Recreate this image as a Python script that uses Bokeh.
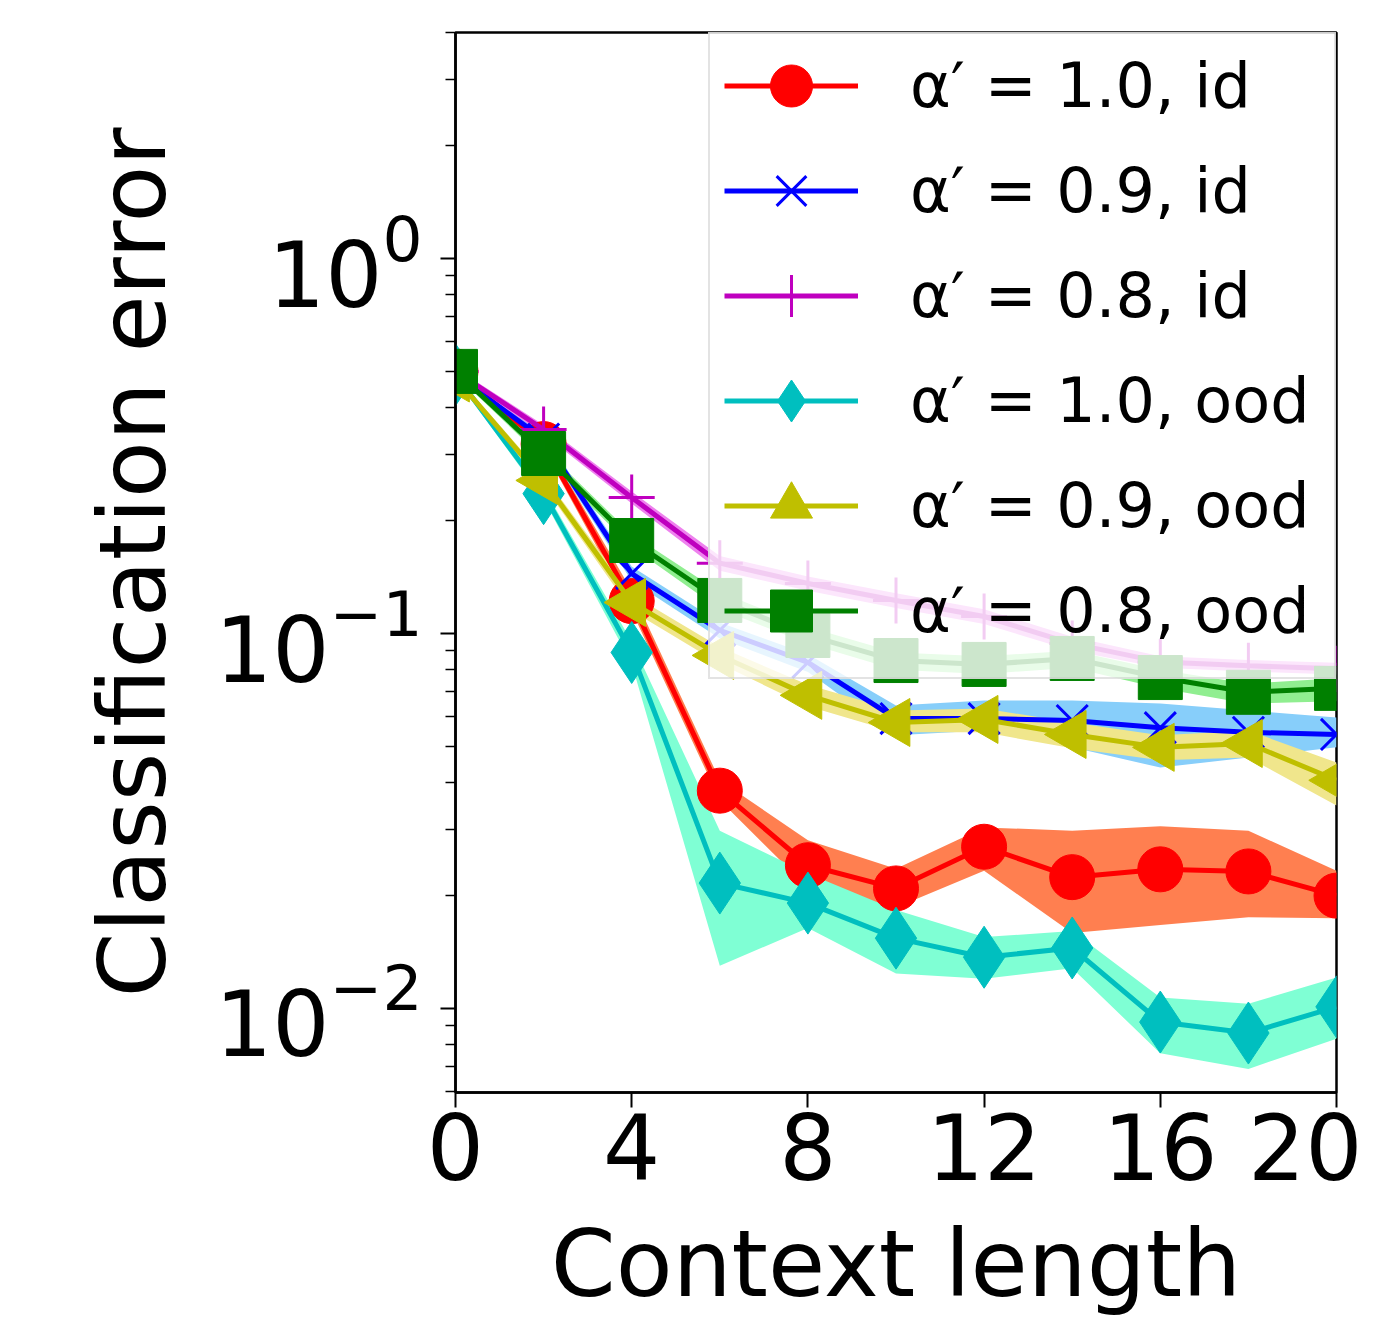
import numpy as np
from bokeh.plotting import figure
from bokeh.models import FixedTicker, Legend, LegendItem, Range1d
from bokeh.embed import file_html
from bokeh.resources import INLINE

# ---------------- data ----------------
context = [0, 2, 4, 6, 8, 10, 12, 14, 16, 18, 20]

labels = ["α′ = 1.0, id", "α′ = 0.9, id", "α′ = 0.8, id",
          "α′ = 1.0, ood", "α′ = 0.9, ood", "α′ = 0.8, ood"]

red_mean = [0.50, 0.32, 0.122, 0.0381, 0.0241, 0.0209, 0.0270, 0.0224, 0.0235, 0.0232, 0.0200]
red_low = [0.49, 0.31, 0.115, 0.0359, 0.0210, 0.0186, 0.0233, 0.0159, 0.0167, 0.0175, 0.0174]
red_high = [0.51, 0.33, 0.130, 0.0406, 0.0281, 0.0236, 0.0304, 0.0298, 0.0306, 0.0298, 0.0233]

blue_mean = [0.49, 0.33, 0.1445, 0.102, 0.0837, 0.0593, 0.0593, 0.0586, 0.0561, 0.0545, 0.0538]
blue_low = [0.48, 0.32, 0.138, 0.097, 0.079, 0.0535, 0.0551, 0.0497, 0.0439, 0.0467, 0.0497]
blue_high = [0.50, 0.34, 0.151, 0.107, 0.088, 0.0643, 0.0663, 0.0663, 0.0651, 0.0623, 0.0597]

mag_mean = [0.50, 0.35, 0.2305, 0.154, 0.136, 0.1225, 0.111, 0.094, 0.0840, 0.0820, 0.0805]
mag_low = [0.49, 0.34, 0.222, 0.147, 0.130, 0.117, 0.106, 0.090, 0.0810, 0.0792, 0.0778]
mag_high = [0.51, 0.36, 0.239, 0.161, 0.142, 0.128, 0.116, 0.098, 0.0870, 0.0850, 0.0835]

cyan_mean = [0.49, 0.236, 0.089, 0.0216, 0.0191, 0.0154, 0.0137, 0.0145, 0.0092, 0.0086, 0.0101]
cyan_low = [0.48, 0.228, 0.083, 0.0130, 0.0164, 0.0124, 0.0120, 0.0128, 0.0076, 0.0069, 0.0083]
cyan_high = [0.50, 0.245, 0.095, 0.0298, 0.0229, 0.0183, 0.0155, 0.0161, 0.0107, 0.0103, 0.0121]

yel_mean = [0.48, 0.256, 0.121, 0.0874, 0.0684, 0.0579, 0.0590, 0.0538, 0.0497, 0.0509, 0.0406]
yel_low = [0.47, 0.248, 0.115, 0.083, 0.064, 0.0545, 0.0545, 0.0494, 0.0459, 0.0467, 0.0348]
yel_high = [0.49, 0.264, 0.127, 0.092, 0.073, 0.0623, 0.0631, 0.0579, 0.0535, 0.0551, 0.0453]

grn_mean = [0.50, 0.302, 0.177, 0.1225, 0.0988, 0.0847, 0.0827, 0.0858, 0.0763, 0.0697, 0.0714]
grn_low = [0.49, 0.292, 0.170, 0.116, 0.094, 0.080, 0.078, 0.081, 0.0715, 0.0650, 0.0660]
grn_high = [0.51, 0.312, 0.184, 0.129, 0.104, 0.089, 0.087, 0.090, 0.0800, 0.0735, 0.0760]

x_ticks = [0, 4, 8, 12, 16, 20]
y_ticks = [0.01, 0.1, 1.0]

# ---------------- styles ----------------
line_colors = ["#ff0000", "#0000ff", "#bf00bf", "#00bfbf", "#bfbf00", "#008000"]
band_colors = ["#ff7f50", "#87cefa", "#ee82ee", "#7fffd4", "#f0e68c", "#90ee90"]
markers = ["circle", "x", "cross", "diamond", "triangle", "square"]
msizes = [45, 44, 46, 62, 48, 44]
angles = [0, 0, 0, 0, np.pi / 2, 0]

means = [red_mean, blue_mean, mag_mean, cyan_mean, yel_mean, grn_mean]
lows = [red_low, blue_low, mag_low, cyan_low, yel_low, grn_low]
highs = [red_high, blue_high, mag_high, cyan_high, yel_high, grn_high]

p = figure(x_range=Range1d(0, 20), y_range=Range1d(0.00597, 4.006),
           y_axis_type="log",
           frame_width=881, frame_height=1060,
           min_border_left=455, min_border_right=26,
           min_border_top=32, min_border_bottom=213,
           output_backend="svg", toolbar_location=None)
p.xgrid.visible = False
p.ygrid.visible = False
p.outline_line_color = "black"
p.outline_line_width = 2.5
p.outline_line_alpha = 1.0
p.background_fill_color = "white"
p.border_fill_color = "white"

# bands first (beneath all lines)
for i in range(6):
    p.varea(x=context, y1=lows[i], y2=highs[i], fill_color=band_colors[i], fill_alpha=1.0)

items = []
for i in range(6):
    lr = p.line(context, means[i], line_color=line_colors[i], line_width=5)
    if markers[i] in ("x", "cross"):
        sr = p.scatter(context, means[i], marker=markers[i], size=msizes[i],
                       line_color=line_colors[i], line_width=3)
    else:
        sr = p.scatter(context, means[i], marker=markers[i], size=msizes[i],
                       angle=angles[i], fill_color=line_colors[i],
                       line_color=line_colors[i], line_width=1)
    items.append(LegendItem(label=labels[i], renderers=[lr, sr]))

legend = Legend(items=items, location=(253, 413))
legend.label_text_font = "DejaVu Sans"
legend.label_text_font_size = "62px"
legend.label_text_color = "black"
legend.glyph_width = 134
legend.glyph_height = 105
legend.label_height = 105
legend.label_width = 410
legend.spacing = 0
legend.padding = 14
legend.margin = 0
legend.label_standoff = 52
legend.border_line_color = "#c8c8c8"
legend.border_line_width = 2
legend.background_fill_color = "white"
legend.background_fill_alpha = 0.8
p.add_layout(legend)

p.xaxis.ticker = FixedTicker(ticks=x_ticks, minor_ticks=[])
minor = [m * 10.0 ** e for e in range(-3, 1) for m in range(2, 10)]
p.yaxis.ticker = FixedTicker(ticks=y_ticks, minor_ticks=minor)

p.xaxis.axis_label = "Context length"
p.yaxis.axis_label = "Classification error"

for ax in (p.xaxis[0], p.yaxis[0]):
    ax.axis_line_width = 2.5
    ax.axis_line_color = "black"
    ax.major_tick_line_width = 2
    ax.major_tick_out = 15
    ax.major_tick_in = 0
    ax.minor_tick_out = 10
    ax.minor_tick_in = 0
    ax.minor_tick_line_width = 1.5
    ax.major_label_text_font = "DejaVu Sans"
    ax.major_label_text_font_size = "90px"
    ax.major_label_text_color = "black"
    ax.axis_label_text_font = "DejaVu Sans"
    ax.axis_label_text_font_size = "93px"
    ax.axis_label_text_font_style = "normal"
    ax.axis_label_text_color = "black"

p.xaxis.major_label_standoff = 5
p.xaxis.axis_label_standoff = 27
p.yaxis.major_label_standoff = 18
p.yaxis.axis_label_standoff = 25

open("out.html", "w").write(file_html(p, INLINE))
